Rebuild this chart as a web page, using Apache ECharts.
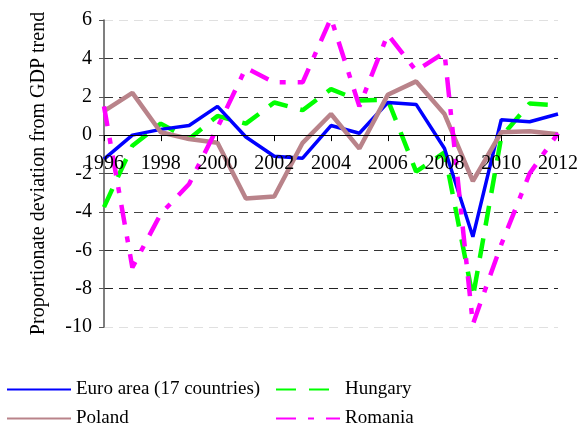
<!DOCTYPE html>
<html><head><meta charset="utf-8">
<script src="https://cdn.jsdelivr.net/npm/echarts@6/dist/echarts.min.js"></script>
<style>html,body{margin:0;padding:0;background:#fff}#c{width:582px;height:427px}</style>
</head><body><div id="c"></div>
<script>
const years = ['1996','1997','1998','1999','2000','2001','2002','2003','2004','2005','2006','2007','2008','2009','2010','2011','2012'];
const euroArea = [-1.25, 0.0, 0.3, 0.5, 1.5, -0.1, -1.1, -1.2, 0.5, 0.1, 1.7, 1.6, -0.7, -5.3, 0.8, 0.7, 1.1];
const hungary = [-3.75, -0.55, 0.6, -0.2, 1.0, 0.6, 1.7, 1.3, 2.4, 1.8, 1.85, -1.9, -0.9, -8.45, -0.1, 1.65, 1.55];
const poland = [1.25, 2.2, 0.15, -0.2, -0.4, -3.3, -3.2, -0.4, 1.1, -0.7, 2.1, 2.8, 1.1, -2.4, 0.15, 0.2, 0.05];
const romania = [1.5, -6.9, -4.1, -2.55, 0.4, 3.5, 2.75, 2.75, 6.1, 1.5, 5.25, 3.35, 4.3, -9.85, -5.7, -2.0, 0.1];
const seriesNames = ['Euro area (17 countries)', 'Hungary', 'Poland', 'Romania'];
const yTicks = {min: -10, max: 6, interval: 2};

const font = '"Liberation Serif", "Times New Roman", serif';
const chart = echarts.init(document.getElementById('c'));
const gridTop = 20, gridBottom = 100, H = 427;
const plotH = H - gridTop - gridBottom;
const zeroOffset = -plotH * (0 - yTicks.min) / (yTicks.max - yTicks.min);
const gridColors = ['#e0e0e0','#222','#333','#444','#444','#444','#333','#333','#e0e0e0'];
function leg(name, left, top) {
  return {data: [name], left: left, top: top, padding: 0, itemWidth: 64, itemHeight: 4, itemGap: 5,
    itemStyle: {opacity: 0},
    textStyle: {fontFamily: font, fontSize: 19, color: '#000'}, selectedMode: false};
}
chart.setOption({
  animation: false,
  grid: {left: 104, right: 24, top: gridTop, bottom: gridBottom},
  legend: [leg(seriesNames[0], 6, 380), leg(seriesNames[1], 275, 380), leg(seriesNames[2], 6, 409), leg(seriesNames[3], 275, 409)],
  xAxis: {
    type: 'category', data: years, boundaryGap: false, position: 'bottom', offset: zeroOffset, z: 10,
    axisLine: {onZero: false, lineStyle: {color: '#000', width: 1}},
    axisTick: {show: true, interval: 1, length: 6, inside: false, lineStyle: {color: '#000'}},
    axisLabel: {interval: 1, fontFamily: font, fontSize: 20, color: '#000', margin: 19},
    splitLine: {show: false}
  },
  yAxis: {
    type: 'value', min: yTicks.min, max: yTicks.max, interval: yTicks.interval,
    name: 'Proportionate deviation from GDP trend', nameLocation: 'middle', nameGap: 55,
    nameTextStyle: {fontFamily: font, fontSize: 20, color: '#000'},
    axisLine: {show: true, onZero: false, lineStyle: {color: '#555', width: 1.5}},
    axisTick: {show: true, length: 5, lineStyle: {color: '#555'}},
    axisLabel: {fontFamily: font, fontSize: 20, color: '#000', margin: 12},
    splitLine: {show: true, lineStyle: {type: [9, 6], color: gridColors, width: 1}}
  },
  series: [
    {name: seriesNames[0], type: 'line', data: euroArea, symbol: 'none', color: '#0000ff',
     lineStyle: {color: '#0000ff', width: 3.5}, z: 3},
    {name: seriesNames[1], type: 'line', data: hungary, symbol: 'none', color: '#00ff00',
     lineStyle: {color: '#00ff00', width: 4.5, type: [20, 13]}, z: 2},
    {name: seriesNames[2], type: 'line', data: poland, symbol: 'none', color: '#b9838a',
     lineStyle: {color: '#b9838a', width: 4.5}, z: 4},
    {name: seriesNames[3], type: 'line', data: romania, symbol: 'none', color: '#ff00ff',
     lineStyle: {color: '#ff00ff', width: 4.5, type: [20, 12, 6, 12]}, z: 5}
  ]
});
</script></body></html>
